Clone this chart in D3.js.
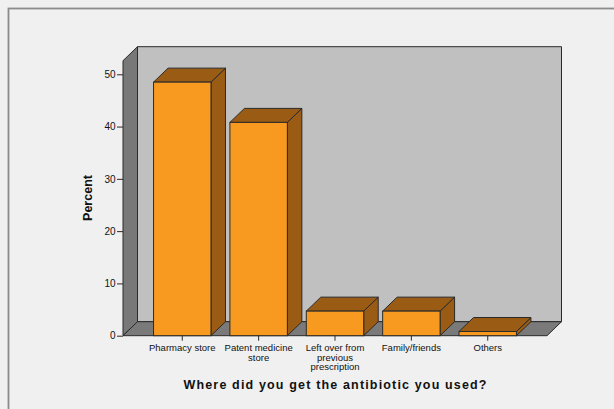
<!DOCTYPE html>
<html>
<head>
<meta charset="utf-8">
<script src="https://cdn.jsdelivr.net/npm/d3@7"></script>
<style>
  html, body { margin: 0; padding: 0; background: #f0f0f0; }
  svg { display: block; }
  text { font-family: "Liberation Sans", Arial, sans-serif; fill: #111; }
</style>
</head>
<body>
<svg id="chart" width="614" height="409"></svg>
<script>
// Source of antibiotics used (percent of respondents)
const categories = ["Pharmacy store", "Patent medicine store", "Left over from previous prescription", "Family/friends", "Others"];
const percents = [48.5, 40.8, 4.7, 4.7, 0.8];
const yTicks = [0, 10, 20, 30, 40, 50];
const xTitle = "Where did you get the antibiotic you used?";
const yTitle = "Percent";

const svg = d3.select("#chart");
const W = 614, H = 409;

// plot frame (front plane) and depth of the 3D box
const plot = { left: 123, right: 547, top: 60.7, bottom: 335.7 };
const depth = { dx: 14.5, dy: 14 };

const x = d3.scaleBand()
  .domain(categories)
  .range([plot.left, plot.right])
  .paddingInner(0.248)
  .paddingOuter(0.40);

const y = d3.scaleLinear()
  .domain([0, 52.6])
  .range([plot.bottom, plot.top]);

const colors = {
  bg: "#f0f0f0",
  frame: "#8c8c8c",
  backWall: "#c0c0c0",
  sideWall: "#787878",
  floor: "#7a7a7a",
  edge: "#2a2a2a",
  barFront: "#f99a20",
  barShade: "#9a5c14"
};

// outer frame
svg.append("rect").attr("width", W).attr("height", H).attr("fill", colors.bg);
svg.append("rect")
  .attr("x", 8.5).attr("y", 8.5)
  .attr("width", W + 20).attr("height", H + 20)
  .attr("fill", "none").attr("stroke", colors.frame).attr("stroke-width", 1.8);

const line = d3.line();
const y0 = y(0), yTop = y.range()[1];
const dx = depth.dx, dy = depth.dy;

// back wall
svg.append("path")
  .attr("d", line([[plot.left + dx, yTop - dy], [plot.right + dx, yTop - dy], [plot.right + dx, y0 - dy], [plot.left + dx, y0 - dy]]) + "Z")
  .attr("fill", colors.backWall).attr("stroke", colors.edge).attr("stroke-width", 1);

// left wall
svg.append("path")
  .attr("d", line([[plot.left, y0], [plot.left, yTop], [plot.left + dx, yTop - dy], [plot.left + dx, y0 - dy]]) + "Z")
  .attr("fill", colors.sideWall).attr("stroke", colors.edge).attr("stroke-width", 1);

// floor
svg.append("path")
  .attr("d", line([[plot.left, y0], [plot.right, y0], [plot.right + dx, y0 - dy], [plot.left + dx, y0 - dy]]) + "Z")
  .attr("fill", colors.floor).attr("stroke", colors.edge).attr("stroke-width", 1);

// bars
const bw = x.bandwidth();
const bars = svg.append("g").selectAll("g")
  .data(categories.map((c, i) => ({ c, v: percents[i] })))
  .join("g");

// side face
bars.append("path")
  .attr("d", d => {
    const x1 = x(d.c) + bw, yt = y(d.v);
    return line([[x1, yt], [x1 + dx, yt - dy], [x1 + dx, y0 - dy], [x1, y0]]) + "Z";
  })
  .attr("fill", colors.barShade).attr("stroke", colors.edge).attr("stroke-width", 1).attr("stroke-linejoin", "round");

// top face
bars.append("path")
  .attr("d", d => {
    const x0 = x(d.c), x1 = x0 + bw, yt = y(d.v);
    return line([[x0, yt], [x1, yt], [x1 + dx, yt - dy], [x0 + dx, yt - dy]]) + "Z";
  })
  .attr("fill", colors.barShade).attr("stroke", colors.edge).attr("stroke-width", 1).attr("stroke-linejoin", "round");

// front face
bars.append("rect")
  .attr("x", d => x(d.c))
  .attr("y", d => y(d.v))
  .attr("width", bw)
  .attr("height", d => y0 - y(d.v))
  .attr("fill", colors.barFront).attr("stroke", colors.edge).attr("stroke-width", 1);

// y axis
const yAxis = svg.append("g")
  .attr("transform", `translate(${plot.left},0)`)
  .call(d3.axisLeft(y).tickValues(yTicks).tickSize(6).tickPadding(1.5));
yAxis.select(".domain").remove();
yAxis.selectAll(".tick line").attr("stroke", colors.edge).attr("stroke-width", 1);
yAxis.selectAll(".tick text")
  .style("font-family", "'Liberation Sans', Arial, sans-serif")
  .style("font-size", "10px").attr("fill", "#222");

// x axis
const xAxis = svg.append("g")
  .attr("transform", `translate(0,${y0})`)
  .call(d3.axisBottom(x).tickSize(5).tickPadding(4));
xAxis.select(".domain").remove();
xAxis.selectAll(".tick line").attr("stroke", colors.edge).attr("stroke-width", 1);
xAxis.selectAll(".tick text")
  .style("font-family", "'Liberation Sans', Arial, sans-serif")
  .style("font-size", "9.5px").attr("fill", "#222")
  .call(wrap, x.step(), 9.2);

// break category labels onto several lines when wider than a band step
function wrap(sel, width, lineH) {
  sel.each(function () {
    const text = d3.select(this);
    const words = text.text().split(/\s+/);
    const yBase = +text.attr("y");
    text.text(null);
    let lineWords = [];
    let n = 0;
    let tspan = text.append("tspan").attr("x", 0).attr("y", yBase).attr("dy", "0.71em");
    for (const w of words) {
      lineWords.push(w);
      tspan.text(lineWords.join(" "));
      if (tspan.node().getComputedTextLength() > width && lineWords.length > 1) {
        lineWords.pop();
        tspan.text(lineWords.join(" "));
        lineWords = [w];
        n++;
        tspan = text.append("tspan").attr("x", 0)
          .attr("y", yBase + n * lineH).attr("dy", "0.71em").text(w);
      }
    }
  });
}

// axis titles
svg.append("text")
  .attr("x", 335).attr("y", 389.3)
  .attr("text-anchor", "middle")
  .style("font-size", "12.5px").style("font-weight", "bold")
  .attr("textLength", 303).attr("lengthAdjust", "spacing")
  .text(xTitle);

svg.append("text")
  .attr("transform", "translate(91.8,198) rotate(-90)")
  .attr("text-anchor", "middle")
  .style("font-size", "12.5px").style("font-weight", "bold")
  .text(yTitle);
</script>
</body>
</html>
